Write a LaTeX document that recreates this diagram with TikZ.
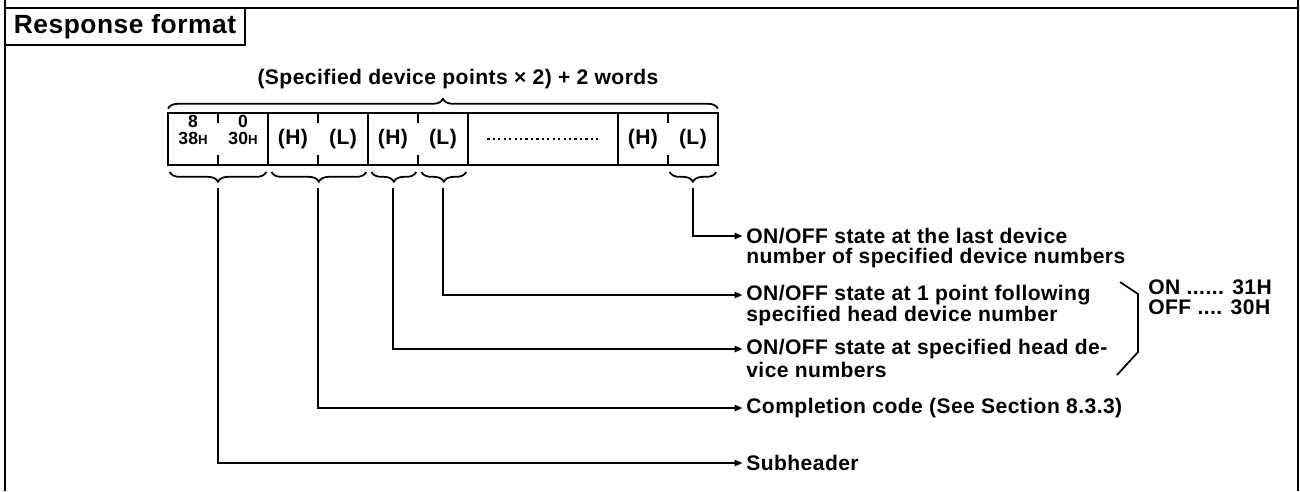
\documentclass[tikz,border=0pt]{standalone}
\usepackage{fontspec}
\setmainfont{Liberation Sans}[LetterSpace=2]
\usetikzlibrary{arrows.meta,decorations.pathreplacing,positioning,calc}

\newcommand\bodyfont{\fontsize{12}{14}\selectfont\bfseries}

\tikzset{
  frame/.style={line width=1.6pt},
  titlebox/.style={draw, line width=1.1pt, minimum width=4.8cm, minimum height=0.74cm,
    inner sep=0pt, font=\fontsize{15}{17}\selectfont\bfseries},
  cellbox/.style={minimum width=1cm, minimum height=1.04cm, inner sep=0pt, outer sep=0pt, font=\bodyfont},
  cellline/.style={line width=0.8pt},
  pairtxt/.style={inner sep=0pt, font=\fontsize{10}{11}\selectfont\bfseries},
  dotline/.style={line width=1.3pt, dash pattern=on 1.3pt off 1.8pt},
  bracedeco/.style={decorate, decoration={brace, amplitude=5.5pt}, line width=1pt},
  conn/.style={line width=1pt, -{Triangle[length=4.5pt,width=3.6pt]}, shorten >=2pt},
  lbl/.style={anchor=west, inner sep=0pt, font=\bodyfont},
}

\begin{document}
\begin{tikzpicture}[x=0.02cm, y=-0.02cm]
\useasboundingbox (0,0) rectangle (1300,491);

% Frame
\draw[frame] (5,0) -- (5,491);
\draw[frame] (1298,0) -- (1298,491);
\draw[frame] (5,8) -- (1298,8);

% Title
\node[titlebox] (title) at (125,26.5) {Response format};

% Cells
\node[cellbox] (c1) at (193,139) {};
\node[cellbox, right=0pt of c1] (c2) {};
\node[cellbox, right=0pt of c2] (c3) {(H)};
\node[cellbox, right=0pt of c3] (c4) {(L)};
\node[cellbox, right=0pt of c4] (c5) {(H)};
\node[cellbox, right=0pt of c5] (c6) {(L)};
\node[cellbox, right=0pt of c6, minimum width=3cm] (c7) {};
\node[cellbox, right=0pt of c7] (c8) {(H)};
\node[cellbox, right=0pt of c8] (c9) {(L)};

\node[pairtxt] (sub1) at ([yshift=10pt]c1.center) {8};
\node[pairtxt] (sub1h) at ([yshift=0.5pt]c1.center) {38{\fontsize{7.5}{8}\selectfont H}};
\node[pairtxt] (sub2) at ([yshift=10pt]c2.center) {0};
\node[pairtxt] (sub2h) at ([yshift=0.5pt]c2.center) {30{\fontsize{7.5}{8}\selectfont H}};
\draw[dotline] ([xshift=11pt]c7.west) -- ([xshift=-10pt]c7.east);

% Outline and dividers
\draw[cellline] (c1.north west) rectangle (c9.south east);
\foreach \c in {c2,c4,c6,c7}
  \draw[cellline] (\c.north east) -- (\c.south east);
\foreach \c in {c1,c3,c5,c8} {
  \draw[cellline] (\c.north east) -- ++(0,10);
  \draw[cellline] (\c.south east) -- ++(0,-10);
}

% Braces
\draw[bracedeco] ([yshift=2.5pt]c1.north west) -- ([yshift=2.5pt]c9.north east);
\node[lbl, anchor=center] (total) at (458,79) {(Specified device points × 2) + 2 words};

\draw[bracedeco] ([xshift=-1pt,yshift=-4pt]c2.south east) -- ([xshift=1pt,yshift=-4pt]c1.south west);
\draw[bracedeco] ([xshift=-1pt,yshift=-4pt]c4.south east) -- ([xshift=2pt,yshift=-4pt]c3.south west);
\draw[bracedeco] ([xshift=-1pt,yshift=-4pt]c5.south east) -- ([xshift=2pt,yshift=-4pt]c5.south west);
\draw[bracedeco] ([xshift=-1pt,yshift=-4pt]c6.south east) -- ([xshift=2pt,yshift=-4pt]c6.south west);
\draw[bracedeco] ([xshift=-1pt,yshift=-4pt]c9.south east) -- ([xshift=1pt,yshift=-4pt]c9.south west);

\coordinate (tipsub) at ([yshift=-13pt]c1.south east);
\coordinate (tipcomp) at ([yshift=-13pt]c3.south east);
\coordinate (tiphead) at ([yshift=-13pt]c5.south);
\coordinate (tipnext) at ([yshift=-13pt]c6.south);
\coordinate (tiplast) at ([yshift=-13pt]c9.south);

% Labels
\node[lbl] (lastdev) at (746,236) {ON/OFF state at the last device};
\node[lbl] (lastdevb) at (746,258) {number of specified device numbers};
\node[lbl] (nextdev) at (746,295) {ON/OFF state at 1 point following};
\node[lbl] (nextdevb) at (746,316) {specified head device number};
\node[lbl] (headdev) at (746,349) {ON/OFF state at specified head de-};
\node[lbl] (headdevb) at (746,370) {vice numbers};
\node[lbl] (compcode) at (746,408) {Completion code (See Section 8.3.3)};
\node[lbl] (subhdr) at (746,463) {Subheader};

% Connectors
\draw[conn] (tiplast) |- (lastdev.west);
\draw[conn] (tipnext) |- (nextdev.west);
\draw[conn] (tiphead) |- (headdev.west);
\draw[conn] (tipcomp) |- (compcode.west);
\draw[conn] (tipsub) |- (subhdr.west);

% ON/OFF values
\draw[line width=1pt] (1120,282) -- (1138,294) -- (1138,352) -- (1117,375);
\node[lbl] (onval) at (1148,287) {ON ...... 31H};
\node[lbl] (offval) at (1148,307) {OFF .... 30H};

\end{tikzpicture}
\end{document}
